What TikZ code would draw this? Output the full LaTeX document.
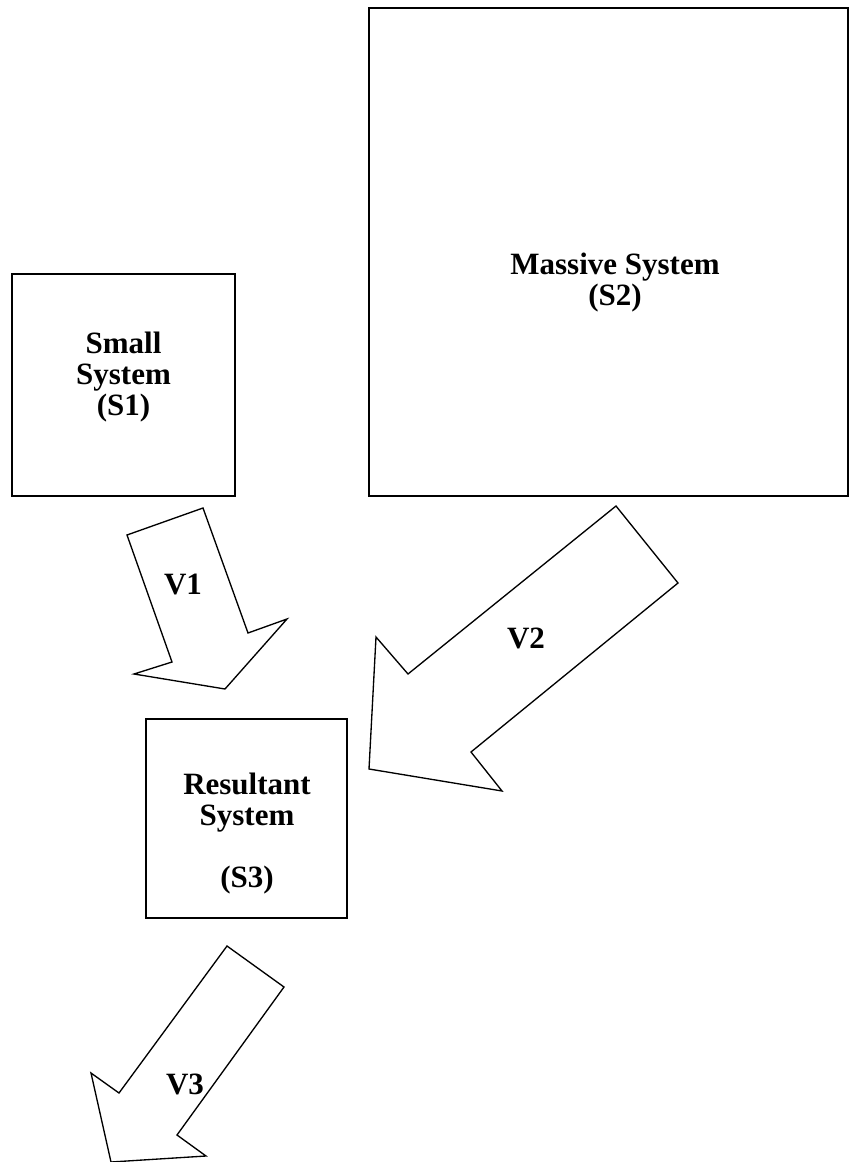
\documentclass[tikz,border=0pt]{standalone}
\usepackage{fontspec}
\setmainfont{Liberation Serif}

\begin{document}
\begin{tikzpicture}[x=0.75pt, y=-0.75pt, line width=1pt,
                lbl/.style={align=center, font=\fontsize{23.25}{23.25}\selectfont\bfseries}]
                \useasboundingbox (0, 0) rectangle (849, 1162);
                % the three systems
                \draw (12, 274) rectangle (235, 496);
                \node [lbl] (s1) at (123.5, 377) {Small\\System\\(S1)};
                \draw (369, 8) rectangle (848, 496);
                \node [lbl] (s2) at (615, 283) {Massive System\\(S2)};
                \draw (146, 719) rectangle (347, 918);
                \node [lbl] (s3) at (247, 834) {Resultant\\System\\[23.25pt](S3)};
                % block arrows
                \draw (127, 535) -- (203, 508) -- (248, 633) -- (287, 619) -- (225, 689) -- (134, 674) -- (172, 662) -- cycle;
                \node [lbl] (v1) at (183, 584) {V1};
                \draw (616, 506) -- (678, 583) -- (471, 752) -- (502, 791) -- (369, 769) -- (376, 637) -- (408, 674) -- cycle;
                \node [lbl] (v2) at (526, 638) {V2};
                \draw (227, 946) -- (284, 987) -- (177, 1135) -- (206, 1156) -- (111, 1162) -- (91, 1073) -- (119, 1093) -- cycle;
                \node [lbl] (v3) at (185, 1084) {V3};
            \end{tikzpicture}
\end{document}
